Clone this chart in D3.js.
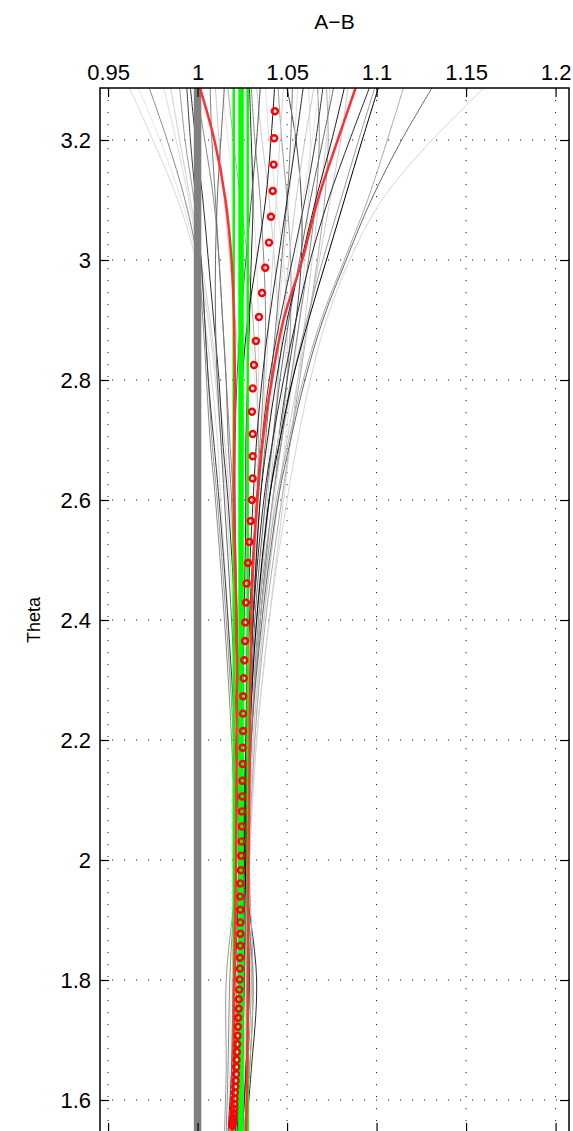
<!doctype html>
<html lang="en">

<head>
    <meta charset="UTF-8" />
    <script src="https://d3js.org/d3.v7.min.js"></script>
    <title>A-B vs Theta</title>
    <style>
        body { margin: 0; background: #fff; }
        text { font-family: "Liberation Sans", Arial, sans-serif; }
    </style>
</head>

<body>
    <div id="chart"></div>
    <script type="module">
        // ---- data ----
        const xTicks = [0.95, 1, 1.05, 1.1, 1.15, 1.2]
        const yTicks = [1.6, 1.8, 2, 2.2, 2.4, 2.6, 2.8, 3, 3.2]

        // theta levels the ensemble members are sampled at
        const memberTheta = [3.287, 3.2, 3.1, 3.0, 2.9, 2.8, 2.7, 2.6, 2.4, 2.2, 2.0, 1.8, 1.65, 1.545]
        const members = [
            [0.962, 0.975, 0.989, 0.999, 1.004, 1.008, 1.011, 1.013, 1.017, 1.020, 1.022, 1.020, 1.019, 1.018],
            [0.967, 0.979, 0.991, 1.000, 1.006, 1.010, 1.013, 1.016, 1.020, 1.022, 1.023, 1.019, 1.018, 1.017],
            [0.973, 0.983, 0.993, 1.000, 1.003, 1.005, 1.007, 1.010, 1.015, 1.019, 1.021, 1.018, 1.017, 1.016],
            [0.981, 0.988, 0.995, 1.001, 1.006, 1.010, 1.013, 1.016, 1.020, 1.023, 1.025, 1.022, 1.020, 1.019],
            [0.985, 0.990, 0.996, 1.002, 1.007, 1.011, 1.015, 1.018, 1.022, 1.024, 1.026, 1.027, 1.024, 1.022],
            [0.990, 0.993, 0.998, 1.002, 1.004, 1.006, 1.008, 1.011, 1.016, 1.020, 1.022, 1.016, 1.016, 1.015],
            [0.994, 0.996, 0.999, 1.002, 1.004, 1.006, 1.009, 1.012, 1.017, 1.021, 1.023, 1.021, 1.019, 1.017],
            [0.996, 0.999, 1.003, 1.006, 1.009, 1.012, 1.014, 1.017, 1.021, 1.023, 1.025, 1.024, 1.023, 1.021],
            [0.999, 1.004, 1.009, 1.012, 1.014, 1.016, 1.018, 1.020, 1.022, 1.023, 1.024, 1.022, 1.021, 1.019],
            [1.007, 1.008, 1.010, 1.012, 1.014, 1.016, 1.017, 1.019, 1.021, 1.023, 1.024, 1.023, 1.021, 1.019],
            [1.010, 1.012, 1.015, 1.018, 1.021, 1.024, 1.026, 1.027, 1.027, 1.026, 1.026, 1.026, 1.024, 1.022],
            [1.014, 1.017, 1.021, 1.025, 1.029, 1.032, 1.034, 1.034, 1.031, 1.028, 1.027, 1.028, 1.026, 1.024],
            [1.015, 1.013, 1.011, 1.010, 1.010, 1.011, 1.013, 1.015, 1.019, 1.022, 1.023, 1.020, 1.019, 1.018],
            [1.017, 1.020, 1.024, 1.028, 1.031, 1.033, 1.034, 1.033, 1.030, 1.028, 1.026, 1.025, 1.025, 1.024],
            [1.027, 1.029, 1.031, 1.033, 1.034, 1.034, 1.033, 1.032, 1.029, 1.027, 1.026, 1.025, 1.024, 1.022],
            [1.029, 1.030, 1.031, 1.030, 1.029, 1.028, 1.027, 1.027, 1.026, 1.025, 1.025, 1.028, 1.027, 1.025],
            [1.030, 1.032, 1.035, 1.037, 1.038, 1.037, 1.035, 1.033, 1.029, 1.027, 1.025, 1.024, 1.023, 1.022],
            [1.033, 1.036, 1.040, 1.043, 1.045, 1.045, 1.043, 1.040, 1.034, 1.030, 1.027, 1.026, 1.025, 1.023],
            [1.035, 1.033, 1.030, 1.027, 1.024, 1.022, 1.021, 1.021, 1.022, 1.024, 1.025, 1.027, 1.026, 1.024],
            [1.038, 1.040, 1.044, 1.048, 1.050, 1.050, 1.047, 1.043, 1.036, 1.031, 1.028, 1.026, 1.025, 1.024],
            [1.043, 1.041, 1.038, 1.033, 1.028, 1.025, 1.024, 1.024, 1.025, 1.025, 1.025, 1.025, 1.024, 1.023],
            [1.045, 1.047, 1.050, 1.052, 1.052, 1.050, 1.046, 1.042, 1.035, 1.030, 1.028, 1.030, 1.028, 1.026],
            [1.048, 1.046, 1.044, 1.042, 1.040, 1.038, 1.036, 1.034, 1.031, 1.029, 1.027, 1.026, 1.025, 1.024],
            [1.050, 1.055, 1.058, 1.058, 1.055, 1.050, 1.045, 1.040, 1.033, 1.029, 1.027, 1.024, 1.023, 1.021],
            [1.053, 1.052, 1.050, 1.047, 1.044, 1.041, 1.038, 1.035, 1.031, 1.028, 1.026, 1.031, 1.029, 1.026],
            [1.056, 1.054, 1.051, 1.048, 1.045, 1.042, 1.040, 1.038, 1.033, 1.030, 1.028, 1.027, 1.026, 1.024],
            [1.059, 1.055, 1.050, 1.045, 1.040, 1.036, 1.033, 1.031, 1.028, 1.027, 1.026, 1.033, 1.030, 1.027],
            [1.062, 1.063, 1.062, 1.060, 1.057, 1.053, 1.049, 1.045, 1.037, 1.032, 1.029, 1.028, 1.026, 1.024],
            [1.065, 1.060, 1.055, 1.051, 1.048, 1.045, 1.042, 1.039, 1.034, 1.030, 1.028, 1.026, 1.025, 1.023],
            [1.067, 1.068, 1.066, 1.062, 1.057, 1.052, 1.047, 1.042, 1.035, 1.030, 1.028, 1.025, 1.024, 1.023],
            [1.068, 1.064, 1.059, 1.055, 1.051, 1.048, 1.045, 1.042, 1.036, 1.031, 1.028, 1.027, 1.026, 1.024],
            [1.070, 1.066, 1.060, 1.053, 1.046, 1.040, 1.036, 1.033, 1.029, 1.027, 1.026, 1.025, 1.024, 1.022],
            [1.072, 1.073, 1.071, 1.067, 1.062, 1.057, 1.052, 1.047, 1.038, 1.032, 1.029, 1.031, 1.029, 1.026],
            [1.074, 1.072, 1.068, 1.064, 1.060, 1.056, 1.052, 1.048, 1.040, 1.033, 1.029, 1.027, 1.026, 1.024],
            [1.076, 1.070, 1.063, 1.057, 1.051, 1.046, 1.042, 1.038, 1.032, 1.029, 1.027, 1.025, 1.024, 1.023],
            [1.082, 1.075, 1.066, 1.058, 1.050, 1.044, 1.039, 1.035, 1.031, 1.028, 1.026, 1.024, 1.024, 1.023],
            [1.084, 1.080, 1.074, 1.068, 1.062, 1.056, 1.050, 1.045, 1.037, 1.031, 1.028, 1.026, 1.025, 1.024],
            [1.096, 1.085, 1.073, 1.063, 1.055, 1.048, 1.042, 1.037, 1.031, 1.028, 1.027, 1.029, 1.027, 1.025],
            [1.099, 1.090, 1.080, 1.070, 1.061, 1.053, 1.047, 1.042, 1.034, 1.030, 1.027, 1.026, 1.025, 1.024],
            [1.101, 1.092, 1.082, 1.072, 1.062, 1.053, 1.046, 1.040, 1.033, 1.029, 1.027, 1.026, 1.025, 1.023],
            [1.115, 1.106, 1.095, 1.082, 1.069, 1.059, 1.051, 1.044, 1.035, 1.030, 1.028, 1.025, 1.024, 1.023],
            [1.131, 1.114, 1.097, 1.083, 1.070, 1.060, 1.052, 1.045, 1.036, 1.030, 1.028, 1.026, 1.025, 1.024],
            [1.160, 1.131, 1.103, 1.085, 1.072, 1.063, 1.056, 1.050, 1.040, 1.033, 1.029, 1.027, 1.026, 1.024]
        ]

        // red envelope lines
        const envTheta = [3.287, 3.2, 3.1, 3.0, 2.9, 2.8, 2.7, 2.6, 2.5, 2.4, 2.2, 2.0, 1.8, 1.6, 1.545]
        const envLow = [1.0013, 1.0094, 1.0156, 1.0190, 1.0204, 1.0208, 1.0205, 1.0203, 1.0210, 1.0218, 1.0218, 1.0215, 1.0205, 1.0200, 1.0190]
        const envHigh = [1.0883, 1.0783, 1.0672, 1.0585, 1.0480, 1.0415, 1.0365, 1.0334, 1.0312, 1.0300, 1.0292, 1.0285, 1.0282, 1.0275, 1.0270]

        // green reference lines and the grey reference at 1
        const greenValues = [1.0202, 1.0243, 1.0280]
        const refValue = 1

        // red circle markers
        const markerTheta = [3.248, 3.203, 3.159, 3.115, 3.072, 3.029, 2.987, 2.945, 2.905, 2.865,
            2.825, 2.786, 2.747, 2.710, 2.673, 2.636, 2.600, 2.565, 2.530, 2.495,
            2.461, 2.429, 2.396, 2.365, 2.333, 2.303, 2.273, 2.244, 2.215, 2.187,
            2.160, 2.132, 2.106, 2.081, 2.056, 2.031, 2.007, 1.983, 1.961, 1.939,
            1.917, 1.896, 1.877, 1.857, 1.837, 1.819, 1.801, 1.784, 1.768, 1.752,
            1.737, 1.722, 1.707, 1.693, 1.680, 1.667, 1.655, 1.643, 1.632, 1.622,
            1.612, 1.602, 1.593, 1.585, 1.578, 1.571, 1.566, 1.561, 1.557]
        const markerValue = [1.0432, 1.0428, 1.0425, 1.0420, 1.0410, 1.0399, 1.0378, 1.0360, 1.0343, 1.0326,
            1.0315, 1.0308, 1.0304, 1.0308, 1.0308, 1.0308, 1.0304, 1.0297, 1.0289, 1.0282,
            1.0274, 1.0270, 1.0266, 1.0265, 1.0261, 1.0258, 1.0255, 1.0254, 1.0254, 1.0252,
            1.0252, 1.0250, 1.0250, 1.0248, 1.0248, 1.0246, 1.0244, 1.0242, 1.0239, 1.0238,
            1.0239, 1.0239, 1.0239, 1.0239, 1.0237, 1.0237, 1.0235, 1.0233, 1.0231, 1.0230,
            1.0227, 1.0226, 1.0224, 1.0222, 1.0220, 1.0218, 1.0216, 1.0215, 1.0213, 1.0211,
            1.0209, 1.0207, 1.0205, 1.0203, 1.0202, 1.0199, 1.0198, 1.0196, 1.0195]

        // ---- styling ----
        const memberShade = ["#d8d8d8", "#e4e4e4", "#8c8c8c", "#dcdcdc", "#cfcfcf", "#9a9a9a", "#404040", "#303030", "#8a8a8a",
            "#7a7a7a", "#cccccc", "#e6e6e6", "#6a6a6a", "#ababab",
            "#dddddd", "#2a2a2a", "#8c8c8c", "#cccccc", "#555555", "#e0e0e0", "#1a1a1a", "#9a9a9a", "#d5d5d5",
            "#4a4a4a", "#7a7a7a", "#e0e0e0", "#2a2a2a", "#dddddd", "#c8c8c8", "#8c8c8c", "#e6e6e6", "#3a3a3a",
            "#ababab", "#d0d0d0", "#6a6a6a", "#1a1a1a", "#cccccc",
            "#2a2a2a", "#9a9a9a", "#000000", "#ababab", "#6a6a6a", "#d5d5d5"]

        const margin = { top: 88, left: 100 }
        const plotW = 469
        const plotH = 1044

        const x = d3.scaleLinear().domain([0.9455, 1.2075]).range([0, plotW])
        const y = d3.scaleLinear().domain([3.2867, 1.5467]).range([0, plotH])

        const svg = d3.select("#chart")
            .append("svg")
            .attr("width", 573)
            .attr("height", 1131)

        const g = svg.append("g")
            .attr("transform", `translate(${margin.left},${margin.top})`)

        svg.append("defs").append("clipPath")
            .attr("id", "plot-clip")
            .append("rect")
            .attr("width", plotW)
            .attr("height", plotH)

        // dotted grid
        const grid = g.append("g").attr("class", "grid")
            .attr("stroke", "#222")
            .attr("stroke-width", 1)
            .attr("stroke-dasharray", "1.2,10.8")

        grid.selectAll(".vgrid")
            .data(xTicks)
            .join("line")
            .attr("class", "vgrid")
            .attr("x1", d => x(d)).attr("x2", d => x(d))
            .attr("y1", 0).attr("y2", plotH)

        grid.selectAll(".hgrid")
            .data(yTicks)
            .join("line")
            .attr("class", "hgrid")
            .attr("x1", 0).attr("x2", plotW)
            .attr("y1", d => y(d)).attr("y2", d => y(d))

        const plot = g.append("g").attr("clip-path", "url(#plot-clip)")

        const vLine = d3.line()
            .x(d => x(d[1]))
            .y(d => y(d[0]))
            .curve(d3.curveCatmullRom.alpha(0.5))

        // ensemble members
        plot.selectAll(".member")
            .data(members)
            .join("path")
            .attr("class", "member")
            .attr("fill", "none")
            .attr("stroke", (d, i) => memberShade[i % memberShade.length])
            .attr("stroke-width", 1)
            .attr("d", vals => vLine(vals.map((v, i) => [memberTheta[i], v])))

        // grey reference at 1
        plot.append("line")
            .attr("x1", x(refValue)).attr("x2", x(refValue))
            .attr("y1", 0).attr("y2", plotH)
            .attr("stroke", "#808080")
            .attr("stroke-width", 7.5)

        // green lines
        plot.selectAll(".green")
            .data(greenValues)
            .join("line")
            .attr("class", "green")
            .attr("x1", d => x(d)).attr("x2", d => x(d))
            .attr("y1", 0).attr("y2", plotH)
            .attr("stroke", "#00ff00")
            .attr("stroke-width", (d, i) => i === 1 ? 5.5 : 2.5)

        // red envelope
        plot.selectAll(".env")
            .data([envLow, envHigh])
            .join("path")
            .attr("class", "env")
            .attr("fill", "none")
            .attr("stroke", "#ff3030")
            .attr("stroke-width", 2.5)
            .attr("d", vals => vLine(vals.map((v, i) => [envTheta[i], v])))

        // markers
        plot.selectAll(".marker")
            .data(markerTheta.map((t, i) => [t, markerValue[i]]))
            .join("circle")
            .attr("class", "marker")
            .attr("cx", d => x(d[1]))
            .attr("cy", d => y(d[0]))
            .attr("r", 3)
            .attr("fill", "none")
            .attr("stroke", "#ff0000")
            .attr("stroke-width", 2.4)

        // axes, ticks pointing inward on all four sides
        const fmt = d3.format("~g")

        const topAxis = g.append("g")
            .call(d3.axisTop(x).tickValues(xTicks).tickSizeInner(-9).tickSizeOuter(0).tickPadding(8).tickFormat(fmt))
        const bottomAxis = g.append("g")
            .attr("transform", `translate(0,${plotH})`)
            .call(d3.axisBottom(x).tickValues(xTicks).tickSizeInner(-9).tickSizeOuter(0).tickFormat(""))
        const leftAxis = g.append("g")
            .call(d3.axisLeft(y).tickValues(yTicks).tickSizeInner(-9).tickSizeOuter(0).tickPadding(9).tickFormat(fmt))
        const rightAxis = g.append("g")
            .attr("transform", `translate(${plotW},0)`)
            .call(d3.axisRight(y).tickValues(yTicks).tickSizeInner(-9).tickSizeOuter(0).tickFormat(""))

        for (const ax of [topAxis, bottomAxis, leftAxis, rightAxis]) {
            ax.select(".domain").remove()
            ax.selectAll(".tick line").attr("stroke", "#000").attr("stroke-width", 1.2)
            ax.selectAll("text")
                .attr("fill", "#000")
                .style("font-size", "22px")
                .style("font-family", "'Liberation Sans', Arial, sans-serif")
        }

        // axes box
        g.append("rect")
            .attr("width", plotW)
            .attr("height", plotH)
            .attr("fill", "none")
            .attr("stroke", "#000")
            .attr("stroke-width", 1.5)

        // title and y label
        svg.append("text")
            .attr("x", margin.left + plotW / 2)
            .attr("y", 29)
            .attr("text-anchor", "middle")
            .style("font-size", "21px")
            .text("A\u2212B")

        svg.append("text")
            .attr("transform", "translate(40,620) rotate(-90)")
            .attr("text-anchor", "middle")
            .style("font-size", "18px")
            .text("Theta")
    </script>
</body>

</html>
